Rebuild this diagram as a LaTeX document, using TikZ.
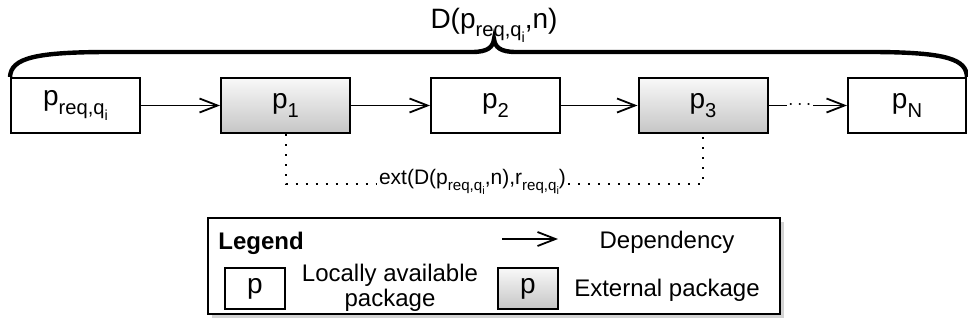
\documentclass[tikz,border=0pt]{standalone}
\usepackage{fontspec}
\setmainfont{Liberation Sans}
\usetikzlibrary{arrows.meta,shadows}

\tikzset{dep/.style={-{Straight Barb[length=9pt,width=7pt]}, line width=0.9pt}}

\newcommand{\sbs}[1]{\raisebox{-0.3em}{\scalebox{0.72}{#1}}}
\newcommand{\preq}{p\sbs{req,q\sbs{i}}}
\newcommand{\rreq}{r\sbs{req,q\sbs{i}}}

\begin{document}
\begin{tikzpicture}[x=0.5pt, y=-0.5pt,
	pkg/.style={draw, line width=1pt, minimum width=64.5pt, minimum height=27.5pt, inner sep=0pt, font=\fontsize{14}{16}\selectfont},
	extpkg/.style={pkg, top color=gray!5, bottom color=gray!45},
	small/.style={pkg, minimum width=30pt, minimum height=20.5pt},
	txt/.style={inner sep=0pt, font=\fontsize{12}{12.5}\selectfont}]
			\useasboundingbox (0,0) rectangle (968,332);
			
			\node[pkg] (pr) at (75.5,105.5) {\preq};
			\node[extpkg] (p1) at (285.5,105.5) {p\sbs{1}};
			\node[pkg] (p2) at (495.5,105.5) {p\sbs{2}};
			\node[extpkg] (p3) at (703,105.5) {p\sbs{3}};
			\node[pkg, minimum width=59pt] (pN) at (907,105.5) {p\sbs{N}};
			
			\draw[dep] (pr) -- (p1);
			\draw[dep] (p1) -- (p2);
			\draw[dep] (p2) -- (p3);
			\draw[dep] (p3) -- node[pos=0.4, fill=white, inner sep=0.5pt] {$\cdots$} (pN);
			
			% brace over the chain
			\node[anchor=base, inner sep=0pt, font=\fontsize{14}{16}\selectfont] (title) at (494,28) {D(\preq,n)};
			\draw[line width=2.2pt] (pr.north west) .. controls (11,58) and (35,52) .. (110,52) -- (472,52)
				.. controls (488,52) and (493,47) .. (494,39) .. controls (495,47) and (500,52) .. (516,52)
				-- (870,52) .. controls (950,52) and (966,60) .. (pN.north east);
			
			\node[anchor=base, inner sep=1pt, font=\fontsize{10.5}{12}\selectfont] (ext) at (472.5,184) {ext(D(\preq,n),\rreq)};
			\draw[line width=1pt, dash pattern=on 1pt off 4pt] (p1.south) |- (ext.base west);
			\draw[line width=1pt, dash pattern=on 1pt off 4pt] (ext.base east) -| (p3.south);
			
			% legend
			\node[draw, line width=1pt, fill=white, minimum width=286pt, minimum height=48pt,
				drop shadow={opacity=0.35, shadow xshift=2pt, shadow yshift=-2pt}] (legend) at (494,266) {};
			\node[txt, anchor=base west, font=\fontsize{12}{14}\selectfont\bfseries] (lgd) at (218,249) {Legend};
			\coordinate (la) at (502,239);
			\coordinate (lb) at (558,239);
			\draw[dep] (la) -- (lb);
			\node[txt, anchor=base] (deptxt) at (667,248) {Dependency};
			\node[small] (locbox) at (255,288.5) {p};
			\node[txt, align=center] (loctxt) at (390,288) {Locally available\\package};
			\node[small, top color=gray!5, bottom color=gray!45] (extbox) at (528,288.5) {p};
			\node[txt, anchor=base] (exttxt) at (667,296) {External package};
			
		\end{tikzpicture}
\end{document}
